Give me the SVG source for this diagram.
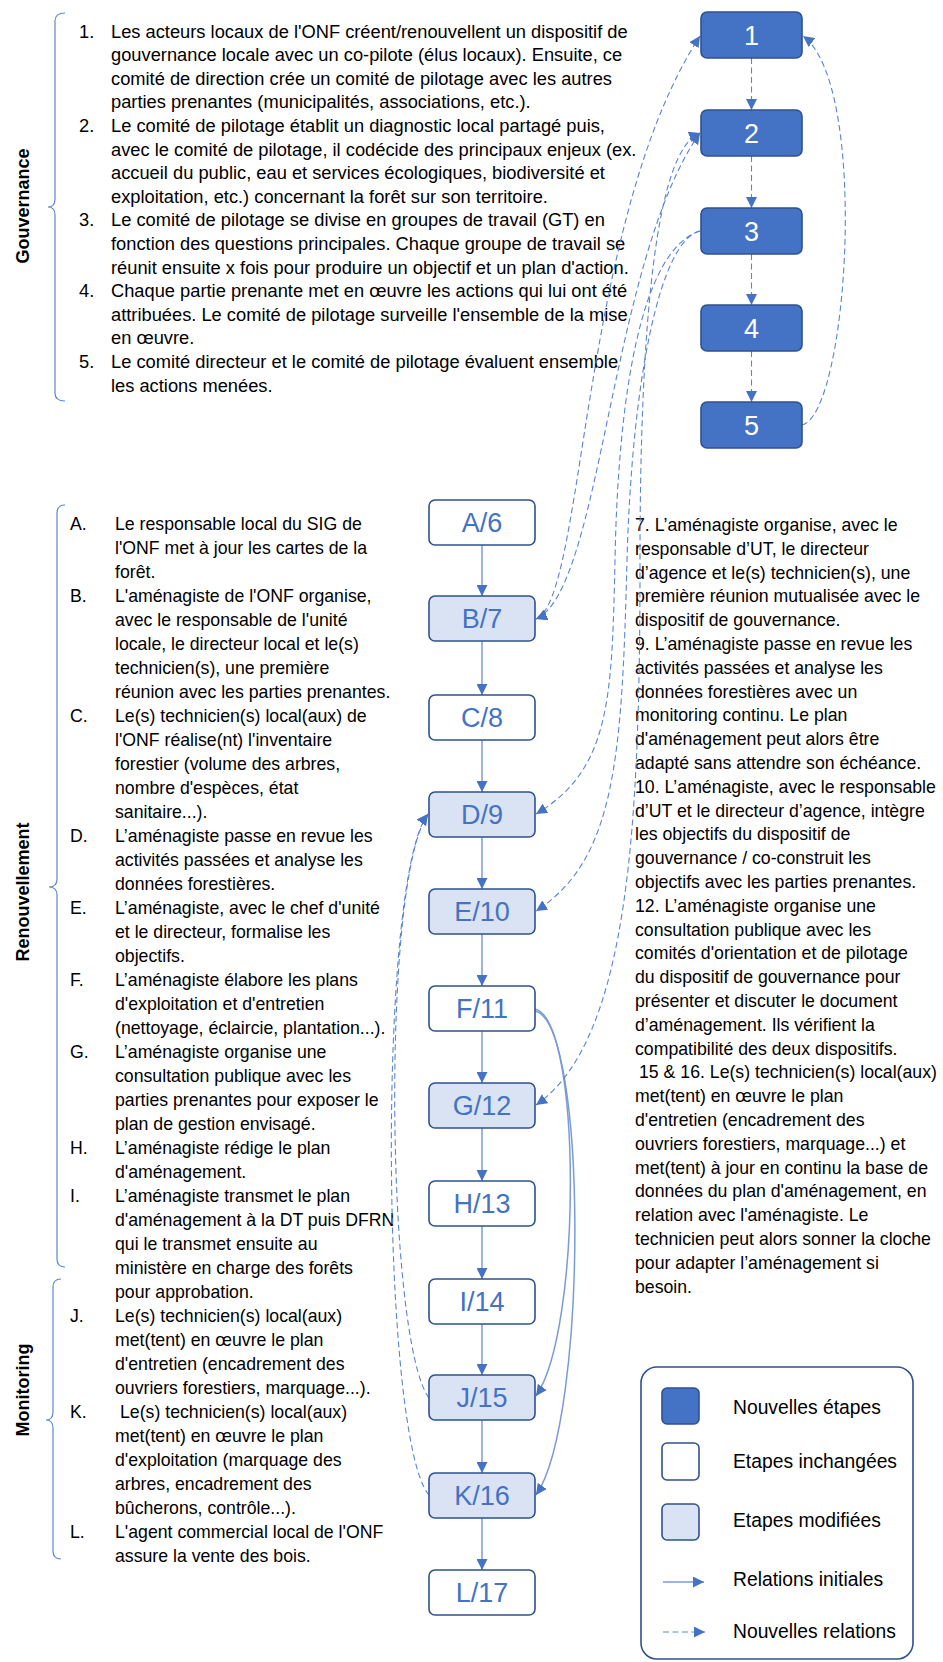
<svg xmlns="http://www.w3.org/2000/svg" width="943" height="1662" viewBox="0 0 943 1662">
<defs>
<style>
.t{font-family:"Liberation Sans",Arial,sans-serif;font-size:17.7px;fill:#000}
.tt{font-family:"Liberation Sans",Arial,sans-serif;font-size:18.3px;fill:#000}
.lab{font-family:"Liberation Sans",Arial,sans-serif;font-size:18px;font-weight:bold;fill:#000;text-anchor:middle}
.lg{font-family:"Liberation Sans",Arial,sans-serif;font-size:19.3px;fill:#000}
.nl{font-family:"Liberation Sans",Arial,sans-serif;font-size:27px;text-anchor:middle}
.new{fill:#4472C4;stroke:#2F528F;stroke-width:1.6}
.unc{fill:#FFFFFF;stroke:#2F528F;stroke-width:1.6}
.mod{fill:#DAE3F3;stroke:#2F528F;stroke-width:1.6}
.wt{fill:#FFFFFF}
.bt{fill:#4472C4}
.br{fill:none;stroke:#5B87D0;stroke-width:1.2}
.sol{fill:none;stroke:#7A9BD8;stroke-width:1.5;marker-end:url(#ah)}
.das{fill:none;stroke:#5A85D1;stroke-width:1.1;stroke-dasharray:6 3.5}
</style>
<marker id="ah" viewBox="0 0 10 10" refX="10" refY="5" markerWidth="11" markerHeight="11" markerUnits="userSpaceOnUse" orient="auto-start-reverse">
<path d="M0,0 L10,5 L0,10 z" fill="#4472C4"/>
</marker>
</defs>

<!-- Section brackets and labels -->
<g id="brackets">
<path class="br" d="M65,13 Q55,13 55,21 L55,199 Q55,207 48,207 Q55,207 55,215 L55,393 Q55,401 65,401"/>
<path class="br" d="M65,505 Q57,505 57,513 L57,879 Q57,887 49,887 Q57,887 57,895 L57,1259 Q57,1267 65,1267"/>
<path class="br" d="M61,1279 Q53,1279 53,1287 L53,1412 Q53,1420 46,1420 Q53,1420 53,1428 L53,1551 Q53,1559 61,1559"/>
<text class="lab" transform="translate(29,206) rotate(-90)">Gouvernance</text>
<text class="lab" transform="translate(29,892) rotate(-90)">Renouvellement</text>
<text class="lab" transform="translate(29,1390) rotate(-90)">Monitoring</text>
</g>

<!-- Governance text -->
<g id="text-gouvernance">
<text class="tt" x="79" y="37.5">1.</text>
<text class="tt" x="111" y="37.5">Les acteurs locaux de l'ONF créent/renouvellent un dispositif de</text>
<text class="tt" x="111" y="61.1">gouvernance locale avec un co-pilote (élus locaux). Ensuite, ce</text>
<text class="tt" x="111" y="84.7">comité de direction crée un comité de pilotage avec les autres</text>
<text class="tt" x="111" y="108.3">parties prenantes (municipalités, associations, etc.).</text>
<text class="tt" x="79" y="131.9">2.</text>
<text class="tt" x="111" y="131.9">Le comité de pilotage établit un diagnostic local partagé puis,</text>
<text class="tt" x="111" y="155.5">avec le comité de pilotage, il codécide des principaux enjeux (ex.</text>
<text class="tt" x="111" y="179.1">accueil du public, eau et services écologiques, biodiversité et</text>
<text class="tt" x="111" y="202.7">exploitation, etc.) concernant la forêt sur son territoire.</text>
<text class="tt" x="79" y="226.3">3.</text>
<text class="tt" x="111" y="226.3">Le comité de pilotage se divise en groupes de travail (GT) en</text>
<text class="tt" x="111" y="249.9">fonction des questions principales. Chaque groupe de travail se</text>
<text class="tt" x="111" y="273.5">réunit ensuite x fois pour produire un objectif et un plan d'action.</text>
<text class="tt" x="79" y="297.1">4.</text>
<text class="tt" x="111" y="297.1">Chaque partie prenante met en œuvre les actions qui lui ont été</text>
<text class="tt" x="111" y="320.7">attribuées. Le comité de pilotage surveille l'ensemble de la mise</text>
<text class="tt" x="111" y="344.3">en œuvre.</text>
<text class="tt" x="79" y="367.9">5.</text>
<text class="tt" x="111" y="367.9">Le comité directeur et le comité de pilotage évaluent ensemble</text>
<text class="tt" x="111" y="391.5">les actions menées.</text>
</g>

<!-- Renewal / monitoring text -->
<g id="text-etapes">
<text class="t" x="70" y="529.5">A.</text>
<text class="t" x="115" y="529.5">Le responsable local du SIG de</text>
<text class="t" x="115" y="553.5">l'ONF met à jour les cartes de la</text>
<text class="t" x="115" y="577.5">forêt.</text>
<text class="t" x="70" y="601.5">B.</text>
<text class="t" x="115" y="601.5">L'aménagiste de l'ONF organise,</text>
<text class="t" x="115" y="625.5">avec le responsable de l'unité</text>
<text class="t" x="115" y="649.5">locale, le directeur local et le(s)</text>
<text class="t" x="115" y="673.5">technicien(s), une première</text>
<text class="t" x="115" y="697.5">réunion avec les parties prenantes.</text>
<text class="t" x="70" y="721.5">C.</text>
<text class="t" x="115" y="721.5">Le(s) technicien(s) local(aux) de</text>
<text class="t" x="115" y="745.5">l'ONF réalise(nt) l'inventaire</text>
<text class="t" x="115" y="769.5">forestier (volume des arbres,</text>
<text class="t" x="115" y="793.5">nombre d'espèces, état</text>
<text class="t" x="115" y="817.5">sanitaire...).</text>
<text class="t" x="70" y="841.5">D.</text>
<text class="t" x="115" y="841.5">L’aménagiste passe en revue les</text>
<text class="t" x="115" y="865.5">activités passées et analyse les</text>
<text class="t" x="115" y="889.5">données forestières.</text>
<text class="t" x="70" y="913.5">E.</text>
<text class="t" x="115" y="913.5">L’aménagiste, avec le chef d'unité</text>
<text class="t" x="115" y="937.5">et le directeur, formalise les</text>
<text class="t" x="115" y="961.5">objectifs.</text>
<text class="t" x="70" y="985.5">F.</text>
<text class="t" x="115" y="985.5">L’aménagiste élabore les plans</text>
<text class="t" x="115" y="1009.5">d'exploitation et d'entretien</text>
<text class="t" x="115" y="1033.5">(nettoyage, éclaircie, plantation...).</text>
<text class="t" x="70" y="1057.5">G.</text>
<text class="t" x="115" y="1057.5">L’aménagiste organise une</text>
<text class="t" x="115" y="1081.5">consultation publique avec les</text>
<text class="t" x="115" y="1105.5">parties prenantes pour exposer le</text>
<text class="t" x="115" y="1129.5">plan de gestion envisagé.</text>
<text class="t" x="70" y="1153.5">H.</text>
<text class="t" x="115" y="1153.5">L’aménagiste rédige le plan</text>
<text class="t" x="115" y="1177.5">d'aménagement.</text>
<text class="t" x="70" y="1201.5">I.</text>
<text class="t" x="115" y="1201.5">L’aménagiste transmet le plan</text>
<text class="t" x="115" y="1225.5">d'aménagement à la DT puis DFRN</text>
<text class="t" x="115" y="1249.5">qui le transmet ensuite au</text>
<text class="t" x="115" y="1273.5">ministère en charge des forêts</text>
<text class="t" x="115" y="1297.5">pour approbation.</text>
<text class="t" x="70" y="1321.5">J.</text>
<text class="t" x="115" y="1321.5">Le(s) technicien(s) local(aux)</text>
<text class="t" x="115" y="1345.5">met(tent) en œuvre le plan</text>
<text class="t" x="115" y="1369.5">d'entretien (encadrement des</text>
<text class="t" x="115" y="1393.5">ouvriers forestiers, marquage...).</text>
<text class="t" x="70" y="1417.5">K.</text>
<text class="t" x="120" y="1417.5">Le(s) technicien(s) local(aux)</text>
<text class="t" x="115" y="1441.5">met(tent) en œuvre le plan</text>
<text class="t" x="115" y="1465.5">d'exploitation (marquage des</text>
<text class="t" x="115" y="1489.5">arbres, encadrement des</text>
<text class="t" x="115" y="1513.5">bûcherons, contrôle...).</text>
<text class="t" x="70" y="1537.5">L.</text>
<text class="t" x="115" y="1537.5">L'agent commercial local de l'ONF</text>
<text class="t" x="115" y="1561.5">assure la vente des bois.</text>
</g>

<!-- Right text -->
<g id="text-nouvelles-etapes">
<text class="t" x="635" y="531">7. L’aménagiste organise, avec le</text>
<text class="t" x="635" y="554.8">responsable d’UT, le directeur</text>
<text class="t" x="635" y="578.6">d’agence et le(s) technicien(s), une</text>
<text class="t" x="635" y="602.4">première réunion mutualisée avec le</text>
<text class="t" x="635" y="626.2">dispositif de gouvernance.</text>
<text class="t" x="635" y="650">9. L’aménagiste passe en revue les</text>
<text class="t" x="635" y="673.8">activités passées et analyse les</text>
<text class="t" x="635" y="697.6">données forestières avec un</text>
<text class="t" x="635" y="721.4">monitoring continu. Le plan</text>
<text class="t" x="635" y="745.2">d'aménagement peut alors être</text>
<text class="t" x="635" y="769">adapté sans attendre son échéance.</text>
<text class="t" x="635" y="792.8">10. L’aménagiste, avec le responsable</text>
<text class="t" x="635" y="816.6">d’UT et le directeur d’agence, intègre</text>
<text class="t" x="635" y="840.4">les objectifs du dispositif de</text>
<text class="t" x="635" y="864.2">gouvernance / co-construit les</text>
<text class="t" x="635" y="888">objectifs avec les parties prenantes.</text>
<text class="t" x="635" y="911.8">12. L’aménagiste organise une</text>
<text class="t" x="635" y="935.6">consultation publique avec les</text>
<text class="t" x="635" y="959.4">comités d'orientation et de pilotage</text>
<text class="t" x="635" y="983.2">du dispositif de gouvernance pour</text>
<text class="t" x="635" y="1007">présenter et discuter le document</text>
<text class="t" x="635" y="1030.8">d’aménagement. Ils vérifient la</text>
<text class="t" x="635" y="1054.6">compatibilité des deux dispositifs.</text>
<text class="t" x="639" y="1078.4">15 &amp; 16. Le(s) technicien(s) local(aux)</text>
<text class="t" x="635" y="1102.2">met(tent) en œuvre le plan</text>
<text class="t" x="635" y="1126">d'entretien (encadrement des</text>
<text class="t" x="635" y="1149.8">ouvriers forestiers, marquage...) et</text>
<text class="t" x="635" y="1173.6">met(tent) à jour en continu la base de</text>
<text class="t" x="635" y="1197.4">données du plan d'aménagement, en</text>
<text class="t" x="635" y="1221.2">relation avec l'aménagiste. Le</text>
<text class="t" x="635" y="1245">technicien peut alors sonner la cloche</text>
<text class="t" x="635" y="1268.8">pour adapter l’aménagement si</text>
<text class="t" x="635" y="1292.6">besoin.</text>
</g>

<!-- Connectors -->
<g id="connectors">
<!-- governance column -->
<path class="das" marker-end="url(#ah)" d="M751.5,58 L751.5,110"/>
<path class="das" marker-end="url(#ah)" d="M751.5,156 L751.5,208"/>
<path class="das" marker-end="url(#ah)" d="M751.5,254 L751.5,305"/>
<path class="das" marker-end="url(#ah)" d="M751.5,351 L751.5,402"/>
<path class="das" marker-end="url(#ah)" d="M802,425 C848,415 870,85 803,36"/>
<!-- main column -->
<path class="sol" d="M482,545 L482,596"/>
<path class="sol" d="M482,641 L482,695"/>
<path class="sol" d="M482,740 L482,792"/>
<path class="sol" d="M482,837 L482,889"/>
<path class="sol" d="M482,934 L482,986"/>
<path class="sol" d="M482,1031 L482,1083"/>
<path class="sol" d="M482,1128 L482,1181"/>
<path class="sol" d="M482,1226 L482,1279"/>
<path class="sol" d="M482,1324 L482,1375"/>
<path class="sol" d="M482,1420 L482,1473"/>
<path class="sol" d="M482,1518 L482,1570"/>
<!-- F/11 to J/15, K/16 -->
<path class="sol" d="M535,1009 C582,1020 582,1330 536,1396"/>
<path class="sol" d="M535,1011 C588,1022 588,1420 536,1495"/>
<!-- new relations -->
<path class="das" marker-start="url(#ah)" marker-end="url(#ah)" d="M536,619 C585,600 580,220 700,36"/>
<path class="das" marker-start="url(#ah)" marker-end="url(#ah)" d="M536,619 C602,590 610,260 700,133"/>
<path class="das" marker-start="url(#ah)" marker-end="url(#ah)" d="M536,1105 C630,1040 640,820 640,560 C640,330 655,150 700,133"/>
<path class="das" marker-end="url(#ah)" d="M700,231 C640,250 618,400 615,560 C612,700 610,770 536,814"/>
<path class="das" marker-end="url(#ah)" d="M700,231 C660,240 632,380 627,560 C622,760 615,860 536,911"/>
<path class="das" marker-end="url(#ah)" d="M429,1398 C386,1340 381,880 428,814"/>
<path class="das" marker-end="url(#ah)" d="M429,1495 C381,1440 377,880 428,814"/>
</g>

<!-- Governance nodes -->
<g id="node-1"><rect class="new" x="701" y="12" width="101" height="46" rx="6"/><text class="nl wt" x="751.5" y="45">1</text></g>
<g id="node-2"><rect class="new" x="701" y="110" width="101" height="46" rx="6"/><text class="nl wt" x="751.5" y="143">2</text></g>
<g id="node-3"><rect class="new" x="701" y="208" width="101" height="46" rx="6"/><text class="nl wt" x="751.5" y="241">3</text></g>
<g id="node-4"><rect class="new" x="701" y="305" width="101" height="46" rx="6"/><text class="nl wt" x="751.5" y="338">4</text></g>
<g id="node-5"><rect class="new" x="701" y="402" width="101" height="46" rx="6"/><text class="nl wt" x="751.5" y="435">5</text></g>

<!-- Main nodes -->
<g id="node-A6"><rect class="unc" x="429" y="500" width="106" height="45" rx="6"/><text class="nl bt" x="482" y="532">A/6</text></g>
<g id="node-B7"><rect class="mod" x="429" y="596" width="106" height="45" rx="6"/><text class="nl bt" x="482" y="628">B/7</text></g>
<g id="node-C8"><rect class="unc" x="429" y="695" width="106" height="45" rx="6"/><text class="nl bt" x="482" y="727">C/8</text></g>
<g id="node-D9"><rect class="mod" x="429" y="792" width="106" height="45" rx="6"/><text class="nl bt" x="482" y="824">D/9</text></g>
<g id="node-E10"><rect class="mod" x="429" y="889" width="106" height="45" rx="6"/><text class="nl bt" x="482" y="921">E/10</text></g>
<g id="node-F11"><rect class="unc" x="429" y="986" width="106" height="45" rx="6"/><text class="nl bt" x="482" y="1018">F/11</text></g>
<g id="node-G12"><rect class="mod" x="429" y="1083" width="106" height="45" rx="6"/><text class="nl bt" x="482" y="1115">G/12</text></g>
<g id="node-H13"><rect class="unc" x="429" y="1181" width="106" height="45" rx="6"/><text class="nl bt" x="482" y="1213">H/13</text></g>
<g id="node-I14"><rect class="unc" x="429" y="1279" width="106" height="45" rx="6"/><text class="nl bt" x="482" y="1311">I/14</text></g>
<g id="node-J15"><rect class="mod" x="429" y="1375" width="106" height="45" rx="6"/><text class="nl bt" x="482" y="1407">J/15</text></g>
<g id="node-K16"><rect class="mod" x="429" y="1473" width="106" height="45" rx="6"/><text class="nl bt" x="482" y="1505">K/16</text></g>
<g id="node-L17"><rect class="unc" x="429" y="1570" width="106" height="45" rx="6"/><text class="nl bt" x="482" y="1602">L/17</text></g>

<!-- Legend -->
<g id="legend">
<rect x="641" y="1367" width="272" height="292" rx="16" fill="#FFFFFF" stroke="#2F528F" stroke-width="1.6"/>
<rect class="new" x="662" y="1388" width="37" height="36" rx="5"/>
<rect class="unc" x="662" y="1443" width="37" height="37" rx="5"/>
<rect class="mod" x="662" y="1504" width="37" height="36" rx="5"/>
<path class="sol" d="M663,1582 L704,1582"/>
<path class="das" marker-end="url(#ah)" d="M663,1632 L705,1632"/>
<text class="lg" x="733" y="1414">Nouvelles étapes</text>
<text class="lg" x="733" y="1468">Etapes inchangées</text>
<text class="lg" x="733" y="1527">Etapes modifiées</text>
<text class="lg" x="733" y="1586">Relations initiales</text>
<text class="lg" x="733" y="1638">Nouvelles relations</text>
</g>
</svg>
